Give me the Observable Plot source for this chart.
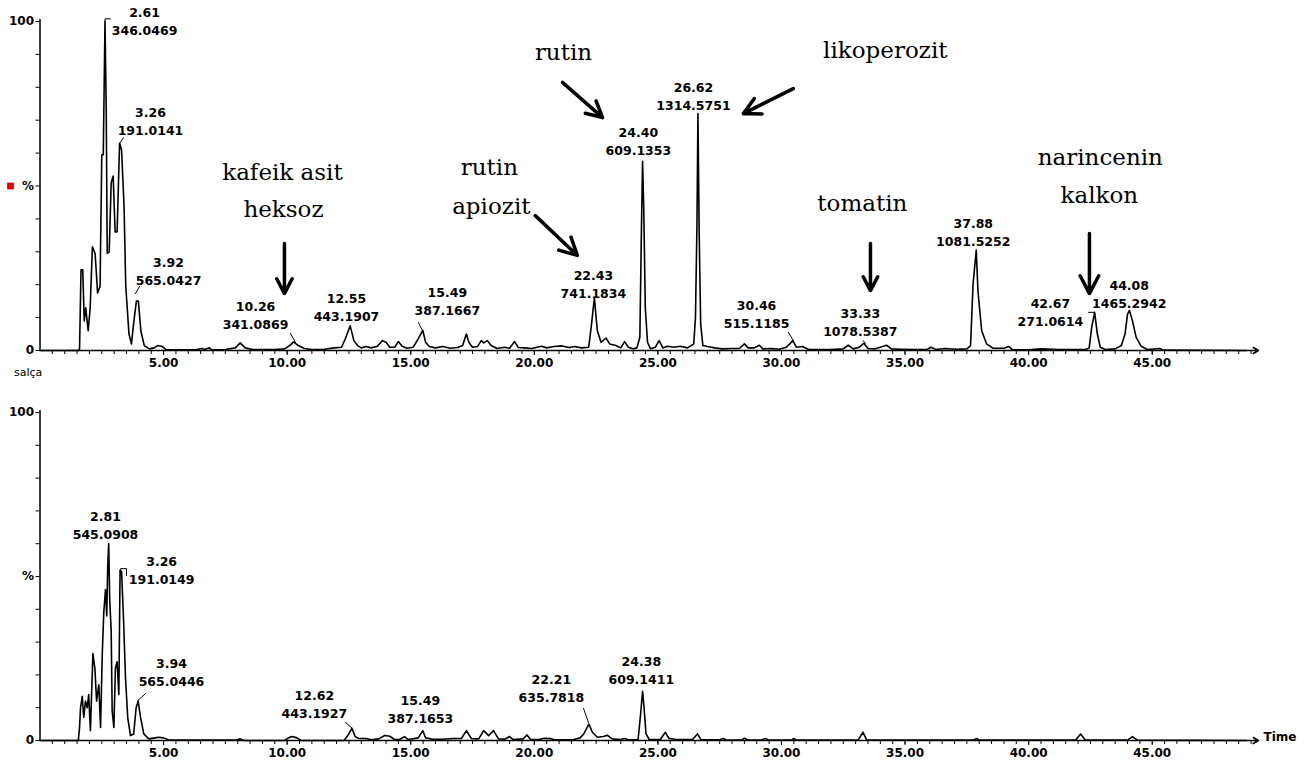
<!DOCTYPE html>
<html>
<head>
<meta charset="utf-8">
<script src="https://cdn.jsdelivr.net/npm/d3@7"></script>
<script src="https://cdn.jsdelivr.net/npm/@observablehq/plot@0.6"></script>
<style>
  body { margin: 0; background: #fff; }
  #chart { width: 1309px; height: 764px; overflow: hidden; }
  #chart svg { display: block; }
</style>
</head>
<body>
<div id="chart"></div>
<script>
// ---------- DATA ----------
// x axis (retention time, min) and y axis (relative intensity, %)
const xMax = 49.3;
const xTickValues = [5, 10, 15, 20, 25, 30, 35, 40, 45];
const xTickLabels = ["5.00", "10.00", "15.00", "20.00", "25.00", "30.00", "35.00", "40.00", "45.00"];
const xMinorTicks = d3.range(0.5, 49.01, 0.5);
const yTickValues = [0, 10, 20, 30, 40, 50, 60, 70, 80, 90, 100];
const yTickLabels = ["0", "", "", "", "", "%", "", "", "", "", "100"];

// top chromatogram (salça)
const topRT = [0, 1.55, 1.60, 1.66, 1.73, 1.79, 1.85, 1.95, 2.03, 2.12, 2.23, 2.33, 2.43, 2.50, 2.56, 2.63, 2.68, 2.72, 2.80, 2.88, 2.96, 3.04, 3.12, 3.22, 3.30, 3.40, 3.47, 3.60, 3.70, 3.80, 3.90, 3.98, 4.08, 4.22, 4.42, 4.62, 4.76, 4.95, 5.10, 5.5, 6.3, 6.55, 6.65, 6.85, 6.95, 7.5, 7.9, 8.1, 8.3, 8.6, 9.5, 9.9, 10.1, 10.26, 10.45, 10.7, 11.0, 11.5, 11.9, 12.2, 12.35, 12.55, 12.7, 12.85, 13.0, 13.2, 13.4, 13.65, 13.85, 14.0, 14.15, 14.35, 14.5, 14.65, 14.85, 15.1, 15.3, 15.49, 15.6, 15.75, 16.0, 16.3, 16.6, 16.9, 17.1, 17.25, 17.35, 17.5, 17.7, 17.85, 17.95, 18.1, 18.25, 18.5, 18.8, 19.0, 19.2, 19.35, 19.6, 19.9, 20.1, 20.3, 20.5, 20.8, 21.1, 21.4, 21.65, 21.9, 22.2, 22.3, 22.43, 22.55, 22.7, 22.9, 23.05, 23.3, 23.5, 23.65, 23.8, 24.0, 24.15, 24.27, 24.33, 24.38, 24.43, 24.49, 24.58, 24.7, 24.9, 25.05, 25.2, 25.4, 25.65, 25.9, 26.2, 26.45, 26.52, 26.58, 26.62, 26.67, 26.73, 26.82, 27.0, 27.3, 27.6, 28.0, 28.3, 28.5, 28.65, 28.9, 29.1, 29.25, 29.6, 29.9, 30.2, 30.46, 30.6, 30.85, 31.1, 32.0, 32.5, 32.7, 32.9, 33.15, 33.33, 33.5, 33.8, 34.25, 34.45, 34.8, 35.5, 35.9, 36.05, 36.25, 36.6, 37.1, 37.5, 37.65, 37.75, 37.88, 37.95, 38.1, 38.3, 38.55, 39.0, 39.2, 39.35, 40.0, 40.5, 41.2, 42.3, 42.45, 42.55, 42.67, 42.78, 42.9, 43.1, 43.5, 43.75, 43.9, 44.0, 44.08, 44.2, 44.35, 44.55, 44.8, 45.3, 45.45, 48.8];
const topPct = [0, 0, 0.5, 24.5, 24.5, 9, 13, 6, 13, 31.5, 29.5, 17.5, 19.5, 59.5, 59.5, 100, 73, 29.5, 30, 51, 53, 36, 36, 63, 61, 44, 19.5, 5, 2, 9, 15, 15, 6, 1.5, 0.5, 0.8, 1.5, 1.2, 0.3, 0.2, 0.2, 0.6, 0.3, 0.8, 0.2, 0.3, 0.8, 2.3, 0.8, 0.3, 0.3, 0.5, 1.5, 2.6, 1.5, 0.6, 0.3, 0.4, 0.8, 1, 3.5, 7.5, 3, 1.5, 0.8, 1.2, 0.8, 1.3, 3, 2.5, 1, 1, 2.7, 1.3, 0.7, 1, 3.5, 6.1, 2.5, 1.2, 0.8, 1.2, 0.7, 0.9, 1.5, 5, 2.5, 1, 1.2, 3, 2.3, 3, 1.5, 0.6, 1, 0.7, 2.7, 0.9, 0.8, 0.6, 1, 1.3, 0.8, 1.2, 1.4, 0.9, 1.2, 0.8, 1, 7, 16, 6, 2.5, 3.8, 2, 1.5, 0.8, 2.7, 1, 0.5, 0.8, 4, 35, 57.5, 42, 13, 2.5, 0.5, 1, 3, 0.8, 1.3, 1, 1.3, 0.8, 2, 10, 38, 72, 36, 8, 1.5, 1.2, 0.8, 0.5, 0.6, 0.6, 2, 0.8, 0.8, 1.6, 0.5, 0.6, 0.4, 1, 3, 1, 1.2, 0.3, 0.3, 0.5, 1.6, 0.5, 1, 2.2, 0.6, 0.5, 1.6, 0.5, 0.4, 0.3, 0.4, 1, 0.3, 0.6, 0.4, 0.5, 1.5, 20, 30.5, 18, 6, 2, 0.7, 0.7, 1.2, 0.2, 0.2, 0.5, 0.3, 0.3, 0.8, 7, 11.6, 5, 1, 0.3, 0.5, 1.5, 5, 11, 12.2, 9, 4, 1.3, 0.3, 0.6, 0.1, 0];

// bottom chromatogram
const botRT = [0, 1.55, 1.60, 1.64, 1.71, 1.77, 1.84, 1.91, 1.97, 2.04, 2.14, 2.22, 2.29, 2.38, 2.45, 2.52, 2.58, 2.65, 2.70, 2.74, 2.78, 2.82, 2.88, 2.92, 2.99, 3.05, 3.12, 3.19, 3.24, 3.30, 3.37, 3.46, 3.55, 3.66, 3.79, 3.89, 3.97, 4.07, 4.20, 4.40, 4.65, 4.8, 5.0, 5.2, 7.9, 8.1, 8.25, 9.9, 10.05, 10.2, 10.4, 10.55, 12.3, 12.45, 12.62, 12.75, 12.9, 13.2, 13.4, 13.7, 13.95, 14.15, 14.35, 14.55, 14.75, 14.9, 15.3, 15.49, 15.6, 15.9, 16.3, 16.7, 17.05, 17.25, 17.45, 17.75, 17.95, 18.15, 18.35, 18.55, 18.8, 19.0, 19.15, 19.55, 19.7, 19.85, 20.2, 20.4, 20.65, 20.8, 21.6, 21.85, 22.0, 22.21, 22.35, 22.55, 22.8, 22.95, 23.15, 23.5, 23.65, 23.8, 24.2, 24.3, 24.38, 24.44, 24.52, 24.65, 25.1, 25.3, 25.45, 25.7, 26.4, 26.6, 26.75, 27.5, 27.65, 27.8, 28.4, 28.5, 28.65, 29.2, 29.35, 29.5, 30.4, 30.5, 30.6, 33.1, 33.3, 33.45, 37.75, 37.9, 38.0, 41.9, 42.1, 42.3, 44.0, 44.2, 44.4, 48.8];
const botPct = [0, 0, 4, 10, 13.5, 7, 12, 10, 14, 3, 26.5, 22, 12, 17, 4, 26.5, 39, 46, 38, 53, 60, 43, 33.5, 9, 4, 22, 24, 14, 52, 51.5, 39, 19, 7, 1.5, 2, 10, 12, 7, 2, 0.5, 0.8, 1, 0.8, 0.2, 0.1, 0.5, 0, 0, 0.8, 1.2, 0.8, 0, 0, 1.5, 3.7, 1.2, 0.6, 0.6, 0.2, 0.5, 1.5, 1.3, 0.3, 0.3, 1.2, 0.3, 0.8, 3, 0.8, 0.4, 0.4, 0.6, 0.6, 3, 0.6, 0.5, 3, 1.5, 3, 0.5, 0.4, 1.2, 0.3, 0.5, 1.7, 0.3, 0.3, 0.7, 0.6, 0.2, 0.3, 0.8, 2, 5, 2.5, 1, 1.2, 1.6, 0.5, 0.3, 0.6, 0.2, 0.3, 8, 15, 10, 2, 0.3, 0.3, 2.5, 0.6, 0.4, 0.3, 2, 0.2, 0.2, 0.6, 0.1, 0.2, 0.7, 0.1, 0.2, 0.6, 0.1, 0.1, 0.6, 0.1, 0.1, 2.5, 0.1, 0.1, 0.6, 0.1, 0.1, 2, 0.1, 0.1, 1.2, 0.1, 0];

// peak labels (retention time / m/z) and where they sit, in data units
const topLabelRT = ["2.61", "3.26", "3.92", "10.26", "12.55", "15.49", "22.43", "24.40", "26.62", "30.46", "33.33", "37.88", "42.67", "44.08"];
const topLabelMZ = ["346.0469", "191.0141", "565.0427", "341.0869", "443.1907", "387.1667", "741.1834", "609.1353", "1314.5751", "515.1185", "1078.5387", "1081.5252", "271.0614", "1465.2942"];
const topLabelT = [4.23, 4.47, 5.20, 8.72, 12.40, 16.48, 22.39, 24.21, 26.44, 28.99, 33.19, 37.76, 40.88, 44.07];
const topLabelP = [102.7, 72.3, 26.7, 13.1, 15.8, 17.6, 22.5, 66.0, 79.9, 13.4, 11.2, 38.3, 14.0, 19.5];

const botLabelRT = ["2.81", "3.26", "3.94", "12.62", "15.49", "22.21", "24.38"];
const botLabelMZ = ["545.0908", "191.0149", "565.0446", "443.1927", "387.1653", "635.7818", "609.1411"];
const botLabelT = [2.65, 4.92, 5.32, 11.10, 15.39, 20.69, 24.33];
const botLabelP = [68.0, 54.3, 23.2, 13.7, 11.9, 18.3, 23.8];

// leader lines from peaks to labels
const topConnectors = [
  [[2.63, 100], [2.63, 100.8], [2.85, 100.8]],
  [[3.22, 62.9], [3.38, 64.7]],
  [[3.86, 17.3], [4.03, 19.5]],
  [[10.34, 2.4], [10.13, 5.2]],
  [[15.47, 6.1], [15.31, 8.5]],
  [[30.48, 3.0], [30.28, 5.5]],
  [[33.39, 2.1], [33.31, 3.0]],
  [[42.42, 11.6], [42.67, 11.6]]
];
const botConnectors = [
  [[3.26, 52.0], [3.26, 52.4], [3.50, 52.4], [3.50, 50.3]],
  [[3.96, 12.2], [4.27, 14.3]],
  [[12.64, 3.7], [12.36, 5.5]],
  [[22.19, 5.5], [21.99, 9.8]]
];

// compound annotations (Turkish) on the top panel
const noteText = ["kafeik asit", "heksoz", "rutin", "rutin", "apiozit", "likoperozit", "tomatin", "narincenin", "kalkon"];
const noteT = [9.81, 9.85, 21.18, 18.18, 18.26, 34.2, 33.27, 42.9, 42.86];
const noteP = [54.1, 42.9, 90.6, 55.6, 43.8, 91.2, 44.7, 58.7, 47.1];
const arrowT1 = [9.89, 21.14, 20.04, 30.48, 33.6, 42.46];
const arrowP1 = [32.5, 81.5, 41.0, 79.6, 32.5, 35.6];
const arrowT2 = [9.89, 22.76, 21.74, 28.46, 33.6, 42.46];
const arrowP2 = [17.3, 70.8, 28.9, 72.0, 18.2, 17.3];

// ---------- BUILD ----------
const zip2 = (a, b) => a.map((t, i) => ({t, p: b[i]}));
const topTrace = zip2(topRT, topPct);
const botTrace = zip2(botRT, botPct);
const labels = (rt, mz, t, p) => rt.map((r, i) => ({rt: r, mz: mz[i], t: t[i], p: p[i]}));
const topLabels = labels(topLabelRT, topLabelMZ, topLabelT, topLabelP);
const botLabels = labels(botLabelRT, botLabelMZ, botLabelT, botLabelP);
const conn = (list) => list.flatMap((seg, k) => seg.map(([t, p]) => ({t, p, k})));
const notes = noteText.map((s, i) => ({s, t: noteT[i], p: noteP[i]}));
const arrows = arrowT1.map((t, i) => ({t1: t, p1: arrowP1[i], t2: arrowT2[i], p2: arrowP2[i]}));

const labelFont = "DejaVu Sans, Verdana, sans-serif";

function panel({trace, labs, connectors, height, marginTop, marginBottom, extra}) {
  return Plot.plot({
    width: 1309,
    height,
    marginLeft: 39.5,
    marginRight: 51,
    marginTop,
    marginBottom,
    x: {domain: [0, xMax]},
    y: {domain: [0, 100]},
    style: {fontFamily: labelFont, fontSize: "12px", fontWeight: "bold", color: "#000", background: "#fff", overflow: "visible"},
    marks: [
      Plot.axisY({ticks: yTickValues, tickSize: 4, tickPadding: 2, label: null, tickFormat: d => yTickLabels[yTickValues.indexOf(d)], fontSize: 12}),
      Plot.axisX({ticks: xMinorTicks, tickSize: 4, label: null, tickFormat: () => ""}),
      Plot.axisX({ticks: xTickValues, tickSize: 5, tickPadding: 3, label: null, tickFormat: d => xTickLabels[xTickValues.indexOf(d)], fontSize: 12}),
      Plot.ruleX([0], {y1: 0, y2: 100.6, stroke: "#000", strokeWidth: 1.5}),
      Plot.arrow([0], {x1: 0, x2: xMax, y1: 0, y2: 0, stroke: "#000", strokeWidth: 1.5, headLength: 6}),
      Plot.line(trace, {x: "t", y: "p", stroke: "#000", strokeWidth: 1.6, curve: "linear"}),
      Plot.line(conn(connectors), {x: "t", y: "p", z: "k", stroke: "#000", strokeWidth: 1}),
      Plot.text(labs, {x: "t", y: "p", text: "rt", fontWeight: "bold", fontSize: 12.5, lineAnchor: "middle"}),
      Plot.text(labs, {x: "t", y: "p", text: "mz", dy: 18, fontWeight: "bold", fontSize: 12.5, lineAnchor: "middle"}),
      ...extra
    ]
  });
}

const topPlot = panel({
  trace: topTrace, labs: topLabels, connectors: topConnectors,
  height: 380, marginTop: 21, marginBottom: 30,
  extra: [
    Plot.dot([{t: 0, p: 50}], {x: "t", y: "p", dx: -29.5, symbol: "square", r: 3.8, fill: "#e00000", stroke: "none"}),
    Plot.text(["salça"], {frameAnchor: "bottom-left", textAnchor: "start", dx: -26, dy: 25, fontWeight: "normal", fontSize: 11}),
    Plot.text(notes, {x: "t", y: "p", text: "s", fontFamily: "DejaVu Serif, Liberation Serif, serif", fontWeight: "normal", fontSize: 23, lineAnchor: "middle"}),
    Plot.arrow(arrows, {x1: "t1", y1: "p1", x2: "t2", y2: "p2", stroke: "#000", strokeWidth: 3.5, headLength: 13, headAngle: 55})
  ]
});

const botPlot = panel({
  trace: botTrace, labs: botLabels, connectors: botConnectors,
  height: 384, marginTop: 32, marginBottom: 24,
  extra: [
    Plot.text(["Time"], {frameAnchor: "bottom-right", textAnchor: "start", dx: 5, fontWeight: "bold", fontSize: 12})
  ]
});

const root = document.getElementById("chart");
root.appendChild(topPlot);
root.appendChild(botPlot);
</script>
</body>
</html>
